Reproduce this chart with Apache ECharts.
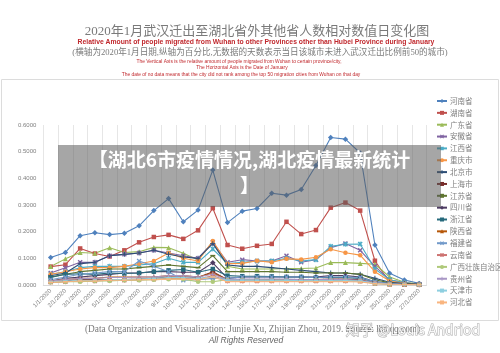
<!DOCTYPE html>
<html><head><meta charset="utf-8">
<script src="https://cdn.jsdelivr.net/npm/echarts@6/dist/echarts.min.js"></script>
<style>html,body{margin:0;padding:0;background:#fff}#c{width:500px;height:353px}</style>
</head><body><div id="c"></div>
<script>
const categories = ['1/1/2020','2/1/2020','3/1/2020','4/1/2020','5/1/2020','6/1/2020','7/1/2020','8/1/2020','9/1/2020','10/1/2020','11/1/2020','12/1/2020','13/1/2020','14/1/2020','15/1/2020','17/1/2020','18/1/2020','19/1/2020','20/1/2020','21/1/2020','22/1/2020','23/1/2020','24/1/2020','25/1/2020','26/1/2020','27/1/2020'];
const yTicks = [0, 0.1, 0.2, 0.3, 0.4, 0.5, 0.6];
const provinces = ['河南省','湖南省','广东省','安徽省','江西省','重庆市','北京市','上海市','江苏省','四川省','浙江省','陕西省','福建省','云南省','广西壮族自治区','贵州省','天津市','河北省'];
const henan    = [0.103,0.122,0.185,0.196,0.189,0.194,0.222,0.279,0.324,0.237,0.281,0.431,0.234,0.277,0.287,0.344,0.337,0.358,0.448,0.553,0.547,0.495,0.150,0.044,0.019,0.006];
const hunan    = [0.069,0.076,0.137,0.118,0.107,0.130,0.160,0.180,0.188,0.173,0.205,0.288,0.150,0.136,0.147,0.154,0.237,0.191,0.206,0.290,0.309,0.279,0.091,0.010,0.005,0.003];
const guangdong= [0.069,0.098,0.122,0.119,0.140,0.122,0.125,0.141,0.140,0.119,0.094,0.163,0.070,0.060,0.060,0.060,0.062,0.062,0.064,0.084,0.084,0.081,0.078,0.030,0.010,0.004];
const anhui    = [0.045,0.065,0.085,0.085,0.110,0.115,0.120,0.130,0.120,0.110,0.100,0.160,0.085,0.095,0.090,0.090,0.110,0.085,0.095,0.140,0.156,0.130,0.070,0.020,0.008,0.003];
const jiangxi  = [0.040,0.050,0.065,0.070,0.070,0.070,0.075,0.080,0.100,0.085,0.085,0.135,0.080,0.085,0.090,0.090,0.100,0.090,0.095,0.145,0.153,0.154,0.060,0.020,0.008,0.003];
const chongqing= [0.040,0.050,0.060,0.065,0.065,0.070,0.080,0.090,0.120,0.100,0.090,0.165,0.080,0.081,0.091,0.085,0.098,0.096,0.104,0.134,0.121,0.112,0.050,0.015,0.006,0.003];
const beijing  = [0.035,0.045,0.080,0.085,0.110,0.115,0.120,0.130,0.115,0.105,0.100,0.155,0.075,0.070,0.070,0.065,0.060,0.055,0.050,0.045,0.045,0.040,0.025,0.010,0.005,0.003];
const shanghai = [0.010,0.015,0.020,0.020,0.020,0.020,0.022,0.025,0.030,0.030,0.028,0.050,0.020,0.020,0.020,0.020,0.020,0.020,0.020,0.022,0.022,0.020,0.008,0.004,0.003,0.002];
const jiangsu  = [0.030,0.040,0.050,0.055,0.060,0.060,0.065,0.070,0.075,0.070,0.065,0.110,0.050,0.050,0.050,0.050,0.048,0.048,0.045,0.045,0.045,0.040,0.020,0.008,0.004,0.002];
const sichuan  = [0.015,0.025,0.030,0.035,0.040,0.045,0.045,0.050,0.050,0.048,0.048,0.083,0.025,0.030,0.030,0.030,0.030,0.030,0.030,0.035,0.035,0.030,0.012,0.005,0.003,0.002];
const zhejiang = [0.028,0.040,0.042,0.040,0.045,0.043,0.045,0.050,0.055,0.058,0.048,0.060,0.035,0.033,0.033,0.032,0.030,0.030,0.028,0.028,0.028,0.025,0.012,0.005,0.003,0.002];
const shaanxi  = [0.015,0.020,0.025,0.025,0.030,0.030,0.030,0.030,0.035,0.035,0.030,0.045,0.020,0.020,0.020,0.020,0.020,0.020,0.018,0.018,0.018,0.016,0.008,0.004,0.002,0.002];
const fujian   = [0.020,0.030,0.040,0.045,0.050,0.050,0.090,0.070,0.050,0.018,0.020,0.025,0.025,0.030,0.030,0.030,0.030,0.030,0.028,0.030,0.030,0.028,0.012,0.005,0.003,0.002];
const yunnan   = [0.010,0.012,0.015,0.015,0.018,0.018,0.020,0.022,0.025,0.025,0.022,0.035,0.015,0.015,0.015,0.015,0.015,0.015,0.015,0.015,0.015,0.015,0.006,0.003,0.002,0.001];
const guangxi  = [0.010,0.012,0.012,0.015,0.015,0.018,0.018,0.020,0.022,0.022,0.012,0.012,0.020,0.020,0.020,0.018,0.018,0.018,0.018,0.018,0.018,0.015,0.006,0.003,0.002,0.001];
const guizhou  = [0.015,0.020,0.025,0.025,0.028,0.028,0.030,0.030,0.035,0.035,0.030,0.040,0.020,0.022,0.022,0.022,0.022,0.020,0.020,0.020,0.020,0.018,0.008,0.004,0.002,0.001];
const tianjin  = [0.012,0.015,0.018,0.018,0.020,0.020,0.022,0.025,0.028,0.028,0.025,0.030,0.018,0.018,0.018,0.018,0.018,0.016,0.016,0.016,0.016,0.015,0.006,0.003,0.002,0.001];
const hebei    = [0.010,0.012,0.015,0.015,0.018,0.018,0.020,0.020,0.022,0.022,0.020,0.030,0.012,0.012,0.012,0.012,0.012,0.012,0.012,0.012,0.012,0.011,0.005,0.003,0.002,0.001];

const seriesValues = [henan,hunan,guangdong,anhui,jiangxi,chongqing,beijing,shanghai,jiangsu,sichuan,zhejiang,shaanxi,fujian,yunnan,guangxi,guizhou,tianjin,hebei];

const colors = ['#4F81BD','#C0504D','#9BBB59','#8064A2','#4BACC6','#F79646','#2C4D75','#772C2A','#5F7530','#4D3B62','#276A7C','#B65708','#729ACA','#CD7371','#AFC97A','#A997C5','#8ECFE0','#F9B57F'];
const X = 'path://M0,0.2L0.2,0L0.5,0.3L0.8,0L1,0.2L0.7,0.5L1,0.8L0.8,1L0.5,0.7L0.2,1L0,0.8L0.3,0.5Z';
const STAR = 'path://M0,0.2L0.2,0L0.5,0.3L0.8,0L1,0.2L0.7,0.5L1,0.8L0.8,1L0.5,0.7L0.2,1L0,0.8L0.3,0.5Z M0.42,0L0.58,0L0.58,1L0.42,1Z';
const PLUS = 'path://M0.4,0H0.6V0.4H1V0.6H0.6V1H0.4V0.6H0V0.4H0.4Z';
const markers = [['diamond',5.5],['rect',4.5],['triangle',5],[X,5],[STAR,5],['circle',4.5],[PLUS,5],['rect',[5,1.6]],['rect',[5,1.6]]];

const chart = echarts.init(document.getElementById('c'), null, {renderer:'canvas'});
const series = provinces.map((name, i) => {
  const m = markers[i % 9];
  return {
    name, type:'line', data: seriesValues[i],
    symbol: m[0], symbolSize: m[1], showSymbol:true,
    lineStyle:{width:1.1, color:colors[i]},
    itemStyle:{color:colors[i]},
    emphasis:{disabled:true}, animation:false
  };
});

const red = '#c0282d';
function txt(text, x, y, font, fill, extra, z) {
  return {type:'text', z: z||50, style:Object.assign({text, x, y, font, fill, textAlign:'center', textVerticalAlign:'middle'}, extra||{})};
}

chart.setOption({
  animation:false,
  color: colors,
  grid:{left:43.3, top:125, width:383.2, height:160, containLabel:false},
  xAxis:{type:'category', data:categories, boundaryGap:true,
    axisLine:{lineStyle:{color:'#d9d9d9'}}, axisTick:{show:false},
    axisLabel:{rotate:45, interval:0, fontSize:6, color:'#7f7f7f', margin:5, fontFamily:'Liberation Sans'},
    splitLine:{show:true, interval:0, lineStyle:{color:'#e6e6e6', width:1}}},
  yAxis:{type:'value', min:yTicks[0], max:yTicks[yTicks.length-1], interval:0.1,
    axisLine:{show:false}, axisTick:{show:false}, splitLine:{show:false},
    axisLabel:{formatter:v=>v.toFixed(4), fontSize:6, color:'#7f7f7f', margin:7, fontFamily:'Liberation Sans'}},
  legend:{orient:'vertical', left:431, top:92, itemWidth:10, itemHeight:5, itemGap:3.85,
    data:provinces, textStyle:{fontSize:7.5, lineHeight:8, height:8, color:'#7f7f7f', fontFamily:'Noto Sans CJK SC', padding:[0,0,0,-2]}},
  series,
  graphic:[
    {type:'rect', z:0, shape:{x:1.5, y:79.5, width:497, height:241}, style:{fill:'none', stroke:'#dcdcdc', lineWidth:1}},
    txt('2020年1月武汉迁出至湖北省外其他省人数相对数值日变化图', 257, 32, '13px "Liberation Serif", "Noto Sans CJK SC"', '#7a7a7a'),
    txt('Relative Amount of people migrated from Wuhan to other Provinces other than Hubei Province during January', 256, 42.5, 'bold 6.8px "Liberation Sans"', red),
    txt('(横轴为2020年1月日期,纵轴为百分比,无数据的天数表示当日该城市未进入武汉迁出比例前50的城市)', 260, 52.5, '8.6px "Liberation Serif", "Noto Sans CJK SC"', '#7a7a7a'),
    txt('The Vertical Axis is the relative amount of people migrated from Wuhan to certain province/city,', 239, 61.5, '4.9px "Liberation Sans"', red),
    txt('The Horizontal Axis is the Date of January', 242, 67.5, '4.9px "Liberation Sans"', red),
    txt('The date of no data means that the city did not rank among the top 50 migration cities from Wuhan on that day', 241, 75, '4.9px "Liberation Sans"', red),
    txt('(Data Organization and Visualization: Junjie Xu, Zhijian Zhou, 2019. Source: lbs.qq.com)', 85, 330, '9.3px "Liberation Serif"', '#7a7a7a', {textAlign:'left'}),
    txt('All Rights Reserved', 246, 340.5, 'italic 8.5px "Liberation Sans"', '#666'),
    {type:'rect', z:80, shape:{x:58, y:145, width:383, height:62}, style:{fill:'rgba(90,90,90,0.54)'}},
    txt('【湖北6市疫情情况,湖北疫情最新统计', 249.5, 159.5, 'bold 19px "Noto Sans CJK SC"', '#ffffff', {}, 90),
    txt('】', 249.5, 186, 'bold 19px "Noto Sans CJK SC"', '#ffffff', {}, 90),
    txt('知乎 @Louis Andriod', 413, 330, '14px "Noto Sans CJK SC"', 'rgba(255,255,255,0.9)', {stroke:'rgba(0,0,0,0.35)', lineWidth:1}, 90)
  ]
});
</script></body></html>
